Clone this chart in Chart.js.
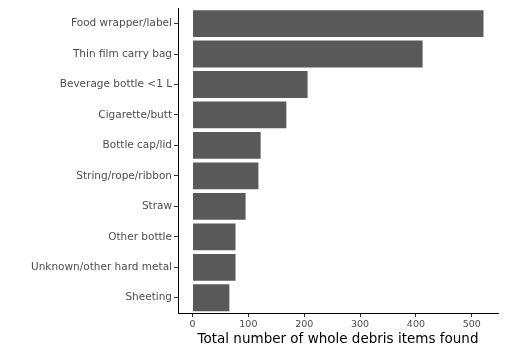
<!DOCTYPE html>
<html>
<head>
<meta charset="utf-8">
<script src="https://cdn.jsdelivr.net/npm/chart.js@4/dist/chart.umd.min.js"></script>
<style>
  html, body { margin: 0; padding: 0; background: #fff; }
  #wrap { width: 509px; height: 350px; }
</style>
</head>
<body>
<div id="wrap"><canvas id="debrisChart"></canvas></div>
<script>
// Debris categories, top to bottom
const categories = [
    'Food wrapper/label',
    'Thin film carry bag',
    'Beverage bottle <1 L',
    'Cigarette/butt',
    'Bottle cap/lid',
    'String/rope/ribbon',
    'Straw',
    'Other bottle',
    'Unknown/other hard metal',
    'Sheeting'
];

// Total whole items found
const itemCounts = [521, 412, 206, 168, 122, 118, 95, 77, 77, 66];

// X axis ticks
const xTicks = [0, 100, 200, 300, 400, 500];

const ctx = document.getElementById('debrisChart').getContext('2d');
const debrisChart = new Chart(ctx, {
    type: 'bar',
    data: {
        labels: categories,
        datasets: [{
            label: 'Items',
            data: itemCounts,
            backgroundColor: '#595959',
            borderWidth: 0,
            barPercentage: 0.88,
            categoryPercentage: 1.0
        }]
    },
    options: {
        indexAxis: 'y',
        responsive: true,
        maintainAspectRatio: false,
        animation: false,
        layout: { padding: { top: 8, right: 11, left: 0, bottom: 0 } },
        plugins: {
            legend: { display: false },
            tooltip: { enabled: false }
        },
        scales: {
            x: {
                min: -26,
                max: 547,
                afterBuildTicks: (scale) => {
                    scale.ticks = xTicks.map(v => ({ value: v }));
                },
                afterFit: (scale) => { scale.height = 37; },
                grid: {
                    drawOnChartArea: false,
                    drawTicks: true,
                    tickLength: 4,
                    color: '#333'
                },
                border: { display: true, color: '#000', width: 1 },
                ticks: {
                    color: '#4d4d4d',
                    padding: 2,
                    font: { family: 'DejaVu Sans', size: 9.5 }
                },
                title: {
                    display: true,
                    text: 'Total number of whole debris items found',
                    color: '#000',
                    padding: { top: 0, bottom: 2 },
                    font: { family: 'DejaVu Sans', size: 13.5 }
                }
            },
            y: {
                afterFit: (scale) => { scale.width = 178; },
                grid: {
                    offset: false,
                    drawOnChartArea: false,
                    drawTicks: true,
                    tickLength: 4,
                    color: '#333'
                },
                border: { display: true, color: '#000', width: 1 },
                ticks: {
                    color: '#4d4d4d',
                    padding: 2,
                    font: { family: 'DejaVu Sans', size: 10.5 }
                }
            }
        }
    }
});
</script>
</body>
</html>
